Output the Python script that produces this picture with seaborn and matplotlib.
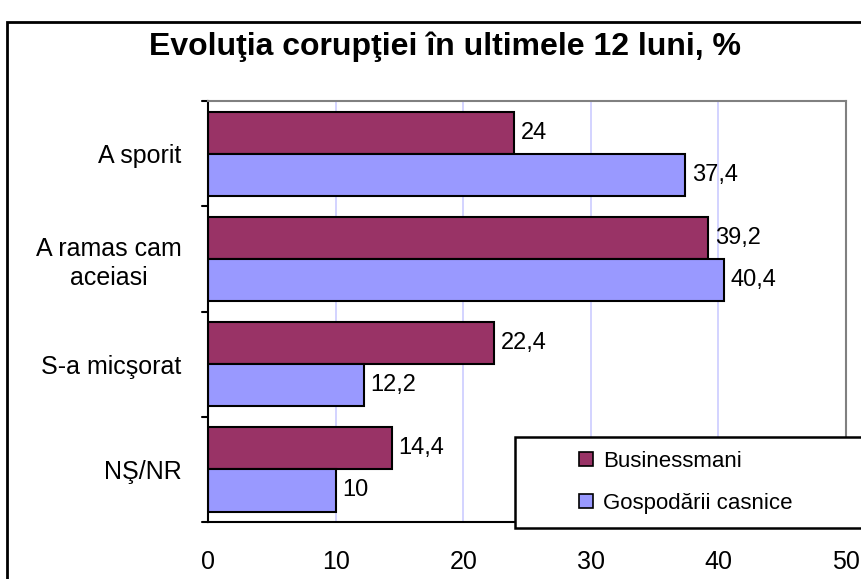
import numpy as np
import pandas as pd
import seaborn as sns
import matplotlib.pyplot as plt
from matplotlib.patches import Rectangle

# data
categories = ["A sporit", "A ramas cam\naceiasi", "S-a micşorat", "NŞ/NR"]
businessmani = [24, 39.2, 22.4, 14.4]
gospodarii = [37.4, 40.4, 12.2, 10]
series = ["Businessmani", "Gospodării casnice"]
xticks = [0, 10, 20, 30, 40, 50]

df = pd.DataFrame({
    "cat": categories * 2,
    "val": businessmani + gospodarii,
    "grp": [series[0]] * 4 + [series[1]] * 4,
})

sns.set_theme(style="white")
plt.rcParams['font.family'] = ['Liberation Sans', 'DejaVu Sans']
plt.rcParams['text.color'] = 'black'
plt.rcParams['xtick.color'] = 'black'
plt.rcParams['ytick.color'] = 'black'

fig = plt.figure(figsize=(8.61, 5.79), dpi=100)
ax = fig.add_axes([0.2416, 0.0984, 0.741, 0.7272])

sns.barplot(data=df, y="cat", x="val", hue="grp", orient="h",
            palette=["#993366", "#9999FF"], saturation=1,
            edgecolor="black", linewidth=1.5, width=0.8, ax=ax, legend=True)

ax.set_xlim(0, 50)
ax.set_ylim(3.5, -0.5)
ax.set_xticks(xticks)
ax.set_xticklabels([str(t) for t in xticks], fontsize=18)
ax.tick_params(axis="y", labelsize=18, length=0, pad=19)
ax.tick_params(axis="x", length=6, width=1.2, direction="out", pad=14)
ax.set_xlabel("")
ax.set_ylabel("")
for lbl in ax.get_yticklabels():
    lbl.set_horizontalalignment("right")
    lbl.set_multialignment("center")
    lbl.set_linespacing(1.25)

# grid lines
for t in xticks[1:-1]:
    ax.axvline(t, color="#ccccff", lw=1.2, zorder=0)
ax.set_axisbelow(True)

# category separator ticks on the y axis
for b in np.arange(-0.5, 4, 1.0):
    ax.plot([-0.5, 0], [b, b], color="black", lw=1.5, clip_on=False)

for side in ["top", "right"]:
    ax.spines[side].set_color("#808080")
    ax.spines[side].set_linewidth(1.5)
for side in ["left", "bottom"]:
    ax.spines[side].set_color("black")
    ax.spines[side].set_linewidth(1.5)

# value labels
for cont in ax.containers:
    ax.bar_label(cont, labels=[f"{v:g}".replace(".", ",") for v in cont.datavalues],
                 padding=5, fontsize=17)

# legend box (white, drawn over the axis) and legend entries
box = Rectangle((515 / 861, 1 - 528 / 579), 0.5, 91 / 579, transform=fig.transFigure,
                facecolor="white", edgecolor="black", lw=1.8, zorder=8, clip_on=False)
ax.add_patch(box)
handles, labels = ax.get_legend_handles_labels()
leg = ax.legend(handles, labels, loc="center left", bbox_to_anchor=(0.673, 0.1667),
                bbox_transform=fig.transFigure, fontsize=16, frameon=False,
                handlelength=0.6, handleheight=0.6, labelspacing=0.95,
                handletextpad=0.45, borderpad=0, borderaxespad=0)
leg.set_zorder(10)
for h in leg.legend_handles:
    h.set_edgecolor("black")
    h.set_linewidth(1.2)

fig.text(0.517, 0.919, "Evoluţia corupţiei în ultimele 12 luni, %",
         ha="center", va="center", fontsize=23, fontweight="bold")

# outer chart border
fig.patches.append(Rectangle((0.008, -0.01), 1.0, 0.972, transform=fig.transFigure,
                             fill=False, edgecolor="black", lw=2))

fig.savefig("out.png", dpi=100)
